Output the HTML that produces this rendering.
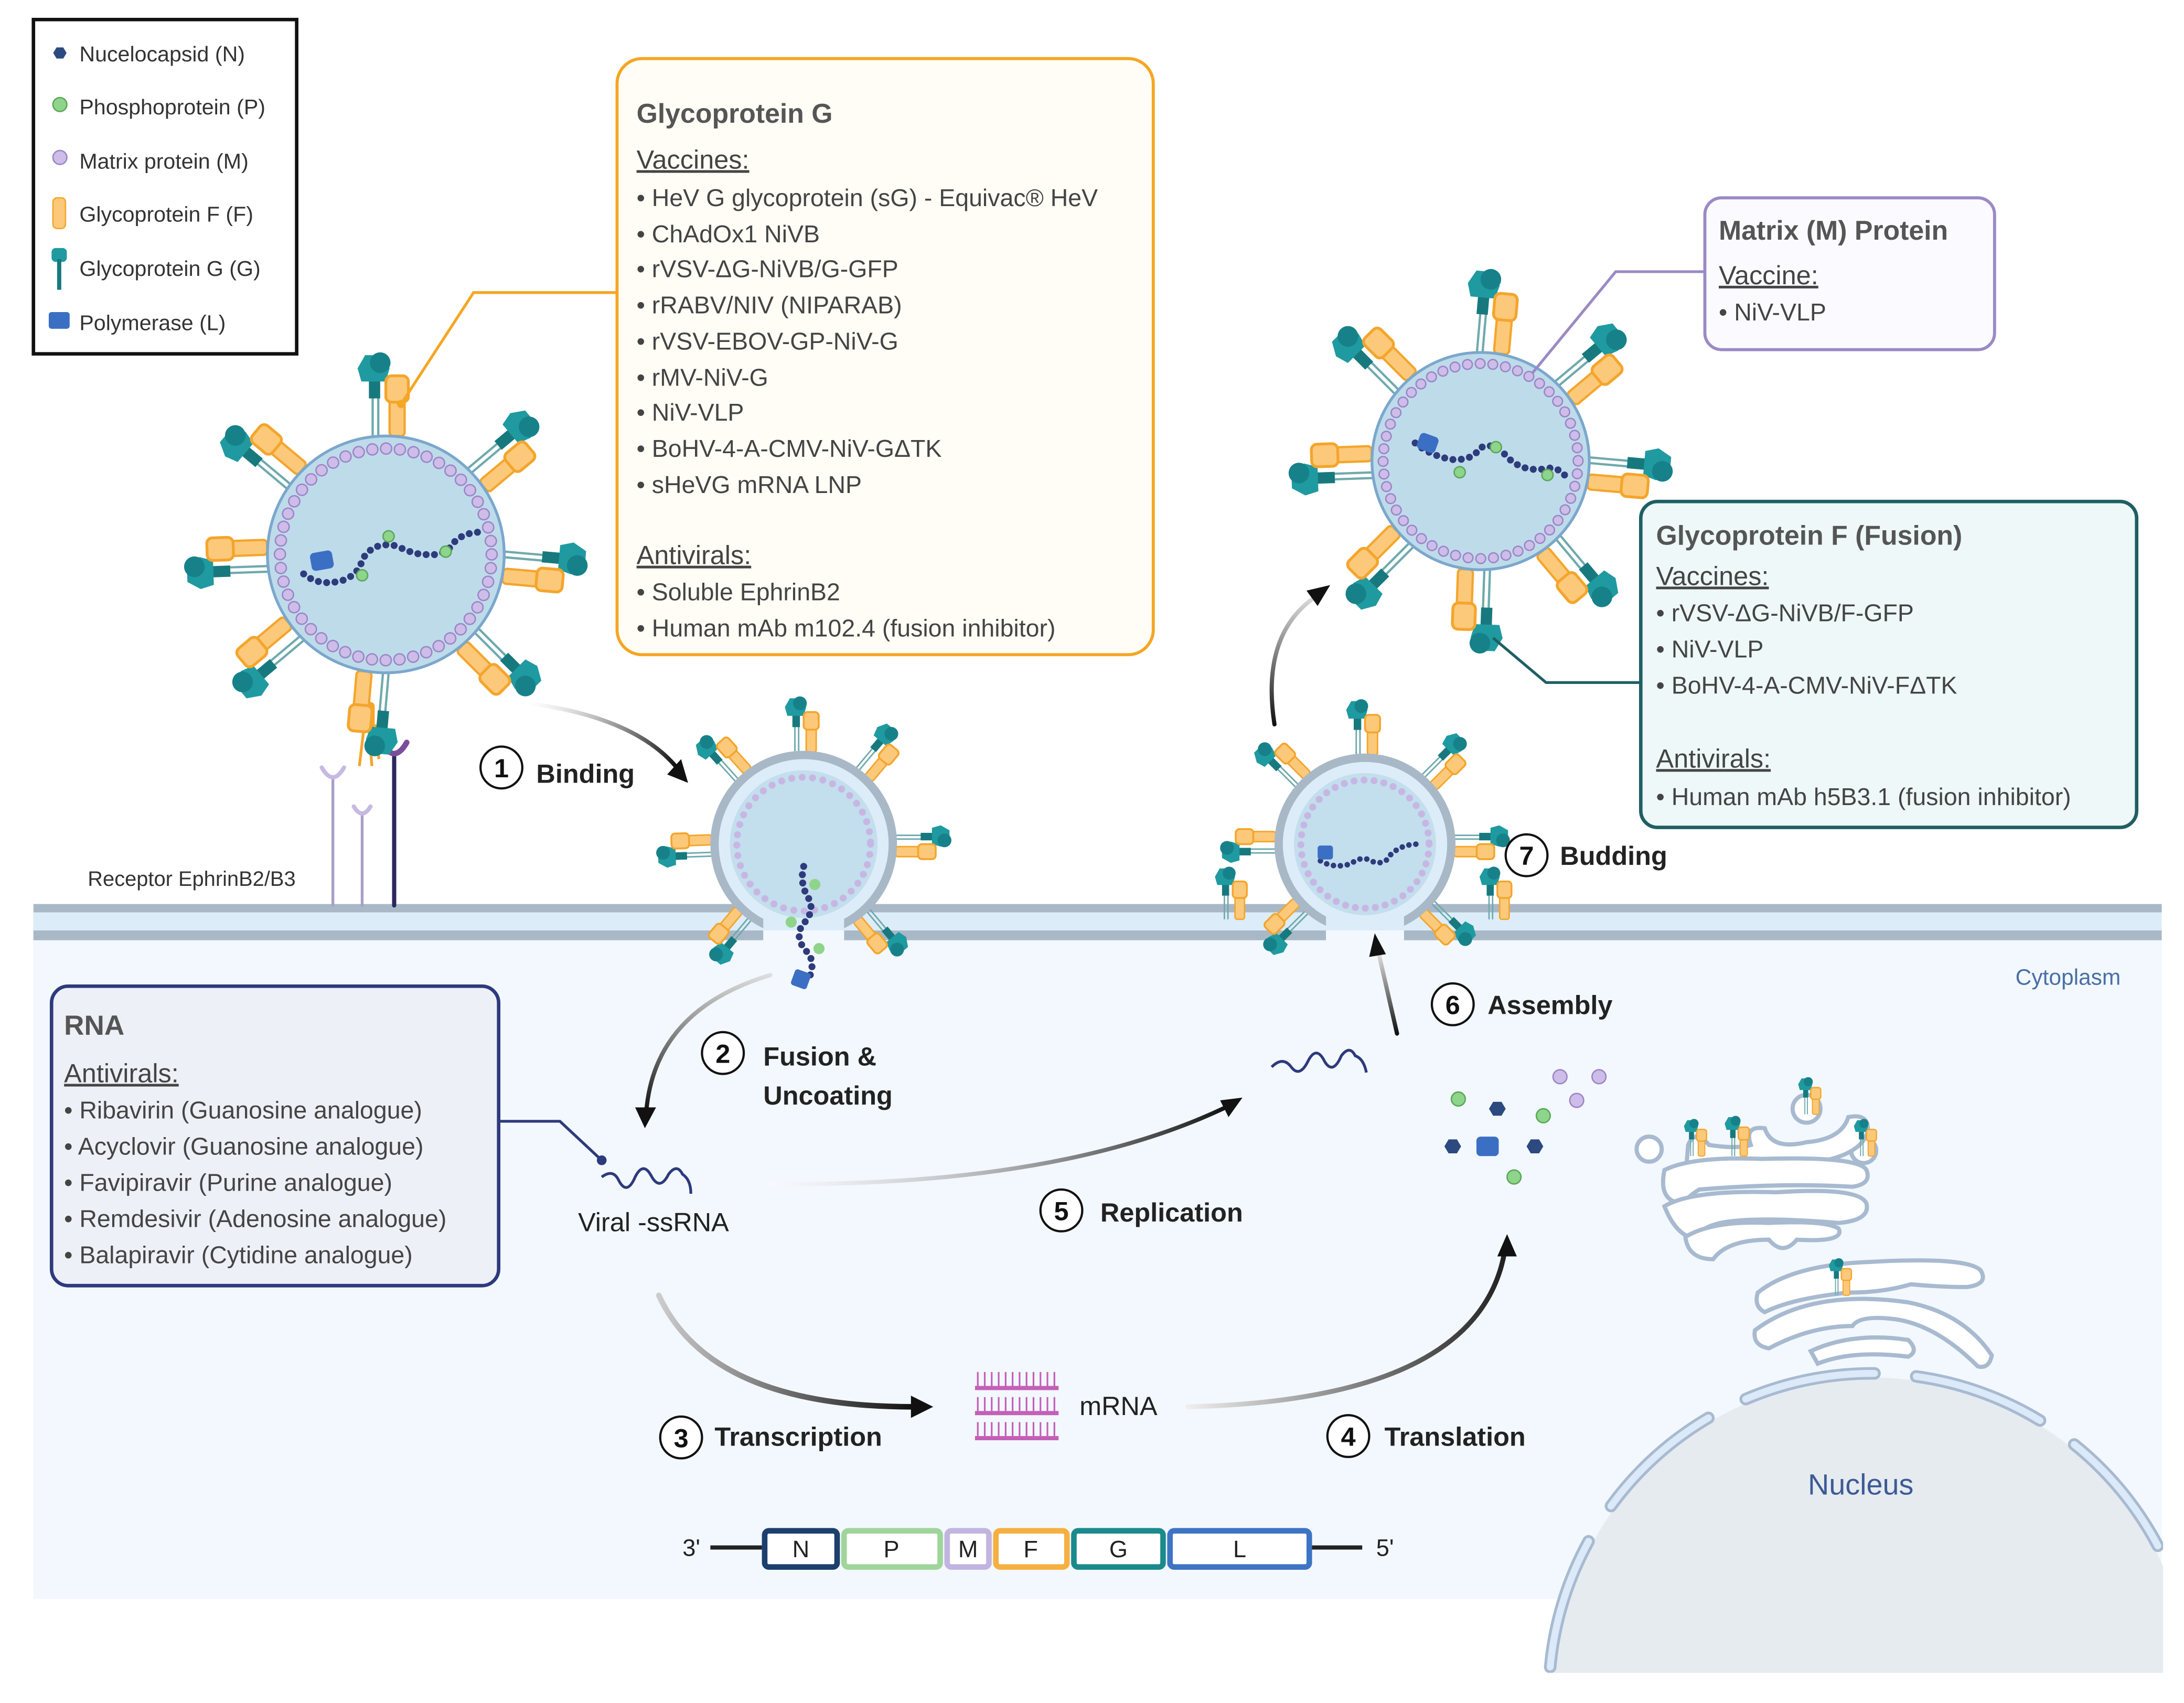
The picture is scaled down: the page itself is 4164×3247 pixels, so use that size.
<!DOCTYPE html>
<html><head><meta charset="utf-8"><style>
html,body{margin:0;padding:0;background:#fff;width:4164px;height:3247px;overflow:hidden}
svg{display:block}
text{font-family:"Liberation Sans",sans-serif}
</style></head><body>
<svg width="4164" height="3247" viewBox="0 0 1568 1222.6" xmlns="http://www.w3.org/2000/svg">
<defs>
<linearGradient id="gA" x1="0" y1="0" x2="1" y2="0"><stop offset="0" stop-color="#fff" stop-opacity="0.3"/><stop offset="1" stop-color="#111"/></linearGradient>
<linearGradient id="gB" x1="0" y1="0" x2="0" y2="1"><stop offset="0" stop-color="#ddd"/><stop offset="1" stop-color="#111"/></linearGradient>
<linearGradient id="gT" x1="0" y1="0" x2="1" y2="0"><stop offset="0" stop-color="#ccc"/><stop offset="1" stop-color="#111"/></linearGradient>
<linearGradient id="gL" x1="0" y1="0" x2="1" y2="0"><stop offset="0" stop-color="#eee"/><stop offset="1" stop-color="#222"/></linearGradient>
<g id="spk">
 <line x1="-7" y1="0" x2="-7" y2="-22" stroke="#6fa9ad" stroke-width="1.2"/>
 <line x1="-4" y1="0" x2="-4" y2="-22" stroke="#6fa9ad" stroke-width="1.2"/>
 <rect x="-9" y="-32" width="6" height="12" fill="#17797e"/>
 <path d="M-15,-36 l4,-7 h9 l4,7 l-2,7 h-13z" fill="#1f9aa0"/>
 <circle cx="-3" cy="-39" r="5.5" fill="#178189"/>
 <rect x="2" y="-20" width="8" height="20" rx="2" fill="#fcc97a" stroke="#f4a52c" stroke-width="1.2"/>
 <rect x="0" y="-32" width="12" height="14" rx="3" fill="#fcc97a" stroke="#f4a52c" stroke-width="1.5"/>
</g>
<g id="hex"><polygon points="-6,0 -3,-5 3,-5 6,0 3,5 -3,5" fill="#2c4a80"/></g>
</defs>

<rect x="24" y="660" width="1528" height="488" fill="#f2f8fd"/>
<clipPath id="nc"><rect x="0" y="900" width="1553" height="301"/></clipPath>
<g clip-path="url(#nc)">
<circle cx="1344" cy="1218" r="229" fill="#e6ebf0"/>
<circle cx="1344" cy="1218" r="232" fill="none" stroke="#a8bad0" stroke-width="9" stroke-dasharray="95 30" stroke-linecap="round"/>
<circle cx="1344" cy="1218" r="232" fill="none" stroke="#dbe9f8" stroke-width="5" stroke-dasharray="95 30" stroke-linecap="round"/>
</g>
<text x="1298" y="1073" font-size="21" fill="#3d5a96">Nucleus</text>
<text x="1447" y="707" font-size="16" fill="#4a6fa5">Cytoplasm</text>

<g fill="#fff" stroke="#a8bad0" stroke-width="3">
<circle cx="1184" cy="825" r="9"/><circle cx="1338" cy="826" r="9"/><circle cx="1297" cy="796" r="10"/>
<path d="M1212,822 q5,-12 15,0 q20,3 30,0 q-5,-14 10,-12 q5,16 30,10 q25,-2 30,-18 q15,-3 14,10 q-5,20 -50,24 q-60,5 -80,-2z"/>
<path d="M1195,840 q20,-10 70,-8 q70,-2 75,8 q4,10 -10,12 q-50,-3 -110,2 q-10,6 -10,10 q-20,0 -15,-24z"/>
<path d="M1195,866 q20,-12 80,-10 q60,-4 65,8 q3,12 -20,14 q-60,-5 -85,0 q-20,5 -10,12 q-20,2 -30,-24z"/>
<path d="M1210,888 q20,-12 60,-10 q40,-2 50,4 q5,10 -30,8 q-10,12 -20,0 q-30,0 -40,14 q-18,0 -20,-16z"/>
<path d="M1262,928 q25,-20 80,-22 q70,-4 80,6 q6,10 -10,12 q-20,0 -40,-2 q-20,6 -45,6 q-40,4 -60,14 q-8,-4 -5,-14z"/>
<path d="M1260,955 q40,-30 110,-20 q40,8 60,38 q-2,10 -10,8 q-30,-30 -60,-34 q-25,-3 -30,5 q-30,0 -60,16 q-12,-2 -10,-13z"/>
<path d="M1300,970 q30,-14 70,-8 q8,8 0,12 q-40,-5 -65,5z"/>
</g>
<use href="#spk" transform="translate(1218,830) scale(0.6)"/>
<use href="#spk" transform="translate(1248,830) scale(0.65)"/>
<use href="#spk" transform="translate(1300,800) scale(0.6)"/>
<use href="#spk" transform="translate(1340,830) scale(0.6)"/>
<use href="#spk" transform="translate(1322,930) scale(0.6)"/>

<rect x="24" y="649" width="1528" height="26" fill="#a9b8c6"/>
<rect x="24" y="655" width="1528" height="13" fill="#ddecf9"/>

<g fill="none" stroke-linecap="round">
<line x1="239" y1="650" x2="239" y2="558" stroke="#a99fc5" stroke-width="2"/>
<path d="M231,551 q8,14 16,0" stroke="#c6b9e2" stroke-width="3"/>
<line x1="260" y1="650" x2="260" y2="585" stroke="#a99fc5" stroke-width="2"/>
<path d="M254,579 q6,10 12,0" stroke="#c6b9e2" stroke-width="3"/>
<line x1="283" y1="650" x2="283" y2="542" stroke="#2b275e" stroke-width="3"/>
<path d="M274,533 q9,16 18,0" stroke="#7a4e9c" stroke-width="4"/>
</g>
<g stroke="#f4a52c" stroke-width="2" fill="#f4a52c"><rect x="258" y="505" width="10" height="20" rx="2"/><line x1="261" y1="525" x2="258" y2="550"/><line x1="265" y1="525" x2="267" y2="550"/><line x1="270" y1="520" x2="272" y2="545"/></g>

<g transform="translate(277,398)">
<use href="#spk" transform="rotate(0) translate(0,-85) scale(1.35)"/>
<use href="#spk" transform="rotate(50) translate(0,-85) scale(1.35)"/>
<use href="#spk" transform="rotate(95) translate(0,-85) scale(1.35)"/>
<use href="#spk" transform="rotate(135) translate(0,-85) scale(1.35)"/>
<use href="#spk" transform="rotate(185) translate(0,-85) scale(1.35)"/>
<use href="#spk" transform="rotate(230) translate(0,-85) scale(1.35)"/>
<use href="#spk" transform="rotate(268) translate(0,-85) scale(1.35)"/>
<use href="#spk" transform="rotate(310) translate(0,-85) scale(1.35)"/>
<circle r="85" fill="#bedbea" stroke="#7ba7cc" stroke-width="2"/>
<circle r="76" fill="none" stroke="#9c86c8" stroke-width="9" stroke-dasharray="0 9.95" stroke-linecap="round"/>
<circle r="76" fill="none" stroke="#cdbde8" stroke-width="7" stroke-dasharray="0 9.95" stroke-linecap="round"/>
</g>
<path d="M218,412 q12,10 30,4 q10,-5 12,-14 q8,-14 25,-10 q12,6 20,6 q15,2 22,-10 q8,-6 18,-6" fill="none" stroke="#2e3b7c" stroke-width="5" stroke-dasharray="0 6" stroke-linecap="round"/>
<rect x="223" y="396" width="16" height="13" rx="3" fill="#3a6fc4" transform="rotate(-10 231 402)"/>
<circle cx="260" cy="413" r="4" fill="#8fd48b" stroke="#5aa85a"/><circle cx="279" cy="385" r="4" fill="#8fd48b" stroke="#5aa85a"/><circle cx="320" cy="396" r="4" fill="#8fd48b" stroke="#5aa85a"/>

<g transform="translate(1063,331)">
<use href="#spk" transform="rotate(5) translate(0,-78) scale(1.35)"/>
<use href="#spk" transform="rotate(50) translate(0,-78) scale(1.35)"/>
<use href="#spk" transform="rotate(95) translate(0,-78) scale(1.35)"/>
<use href="#spk" transform="rotate(140) translate(0,-78) scale(1.35)"/>
<use href="#spk" transform="rotate(182) translate(0,-78) scale(1.35)"/>
<use href="#spk" transform="rotate(225) translate(0,-78) scale(1.35)"/>
<use href="#spk" transform="rotate(268) translate(0,-78) scale(1.35)"/>
<use href="#spk" transform="rotate(315) translate(0,-78) scale(1.35)"/>
<circle r="78" fill="#bedbea" stroke="#7ba7cc" stroke-width="2"/>
<circle r="70" fill="none" stroke="#9c86c8" stroke-width="8" stroke-dasharray="0 9.15" stroke-linecap="round"/>
<circle r="70" fill="none" stroke="#cdbde8" stroke-width="6" stroke-dasharray="0 9.15" stroke-linecap="round"/>
</g>
<path d="M1016,318 q12,10 28,12 q14,0 18,-8 q10,-6 20,6 q12,12 30,8 q8,0 12,6" fill="none" stroke="#2e3b7c" stroke-width="5" stroke-dasharray="0 6" stroke-linecap="round"/>
<rect x="1018" y="312" width="14" height="12" rx="3" fill="#3a6fc4" transform="rotate(20 1025 318)"/>
<circle cx="1048" cy="339" r="4" fill="#8fd48b" stroke="#5aa85a"/><circle cx="1074" cy="321" r="4" fill="#8fd48b" stroke="#5aa85a"/><circle cx="1111" cy="341" r="4" fill="#8fd48b" stroke="#5aa85a"/>

<!-- budding virion 1 -->
<g transform="translate(577,606)">
<use href="#spk" transform="rotate(0) translate(0,-66) scale(0.9)"/>
<use href="#spk" transform="rotate(40) translate(0,-66) scale(0.9)"/>
<use href="#spk" transform="rotate(90) translate(0,-66) scale(0.9)"/>
<use href="#spk" transform="rotate(140) translate(0,-66) scale(0.9)"/>
<use href="#spk" transform="rotate(220) translate(0,-66) scale(0.9)"/>
<use href="#spk" transform="rotate(268) translate(0,-66) scale(0.9)"/>
<use href="#spk" transform="rotate(318) translate(0,-66) scale(0.9)"/>
<circle r="64" fill="#ddecf9" stroke="#a9b8c6" stroke-width="6"/>
</g>
<rect x="548" y="646" width="58" height="32" fill="#ddecf9"/>
<rect x="548" y="668" width="58" height="10" fill="#f2f8fd"/>
<circle cx="577" cy="606" r="53" fill="#c3deec"/>
<circle cx="577" cy="606" r="48" fill="none" stroke="#c7b6e3" stroke-width="5" stroke-dasharray="0 7.5" stroke-linecap="round"/>
<path d="M577,622 q-3,12 3,22 q6,10 -4,20 q-6,10 4,20 q6,8 0,20" fill="none" stroke="#2e3b7c" stroke-width="5" stroke-dasharray="0 6" stroke-linecap="round"/>
<rect x="569" y="697" width="12" height="12" rx="2" fill="#3a6fc4" transform="rotate(20 575 703)"/>
<circle cx="585" cy="635" r="4" fill="#8fd48b"/><circle cx="568" cy="662" r="4" fill="#8fd48b"/><circle cx="588" cy="681" r="4" fill="#8fd48b"/>

<!-- budding virion 2 -->
<g transform="translate(980,606)">
<use href="#spk" transform="rotate(0) translate(0,-64) scale(0.9)"/>
<use href="#spk" transform="rotate(45) translate(0,-64) scale(0.9)"/>
<use href="#spk" transform="rotate(90) translate(0,-64) scale(0.9)"/>
<use href="#spk" transform="rotate(135) translate(0,-64) scale(0.9)"/>
<use href="#spk" transform="rotate(225) translate(0,-64) scale(0.9)"/>
<use href="#spk" transform="rotate(270) translate(0,-64) scale(0.9)"/>
<use href="#spk" transform="rotate(315) translate(0,-64) scale(0.9)"/>
<circle r="62" fill="#ddecf9" stroke="#a9b8c6" stroke-width="6"/>
</g>
<rect x="952" y="646" width="56" height="32" fill="#ddecf9"/>
<rect x="952" y="668" width="56" height="10" fill="#f2f8fd"/>
<circle cx="980" cy="606" r="51" fill="#c3deec"/>
<circle cx="980" cy="606" r="46" fill="none" stroke="#c7b6e3" stroke-width="5" stroke-dasharray="0 7.2" stroke-linecap="round"/>
<path d="M948,618 q10,6 22,2 q8,-6 14,-2 q10,4 14,-4 q8,-8 20,-8" fill="none" stroke="#2e3b7c" stroke-width="4" stroke-dasharray="0 5" stroke-linecap="round"/>
<rect x="946" y="607" width="11" height="10" rx="2" fill="#3a6fc4"/>
<use href="#spk" transform="translate(885,660) scale(0.85)"/>
<use href="#spk" transform="translate(1075,660) scale(0.85)"/>

<rect x="24" y="14" width="189" height="240" fill="#fff" stroke="#111" stroke-width="2.5"/>
<g font-size="15.5" fill="#333">
<text x="57" y="44">Nucelocapsid (N)</text>
<text x="57" y="82">Phosphoprotein (P)</text>
<text x="57" y="121">Matrix protein (M)</text>
<text x="57" y="159">Glycoprotein F (F)</text>
<text x="57" y="198">Glycoprotein G (G)</text>
<text x="57" y="237">Polymerase (L)</text>
</g>
<use href="#hex" transform="translate(43,38) scale(0.8)"/>
<circle cx="43" cy="75" r="5" fill="#8fd48b" stroke="#5aa85a"/>
<circle cx="43" cy="113" r="5" fill="#cdbde8" stroke="#9c86c8"/>
<rect x="38" y="142" width="9" height="22" rx="3" fill="#fcc97a" stroke="#f4a52c"/>
<rect x="37" y="178" width="11" height="10" rx="3" fill="#1f9aa0"/><rect x="41" y="186" width="3" height="22" fill="#17797e"/>
<rect x="35" y="224" width="15" height="12" rx="2" fill="#3a6fc4"/>

<polyline points="443,210 340,210 288,290" fill="none" stroke="#f5a623" stroke-width="2"/>
<circle cx="288" cy="290" r="3" fill="#f5a623"/>
<rect x="443" y="42" width="385" height="428" rx="18" fill="#fffdf6" stroke="#f5a623" stroke-width="2.2"/>
<g font-size="17.5" fill="#444">
<text x="457" y="88" font-size="19.5" font-weight="bold" fill="#555">Glycoprotein G</text>
<text x="457" y="121" font-size="19" text-decoration="underline">Vaccines:</text>
<text x="457" y="148">• HeV G glycoprotein (sG) - Equivac® HeV</text>
<text x="457" y="174">• ChAdOx1 NiVB</text>
<text x="457" y="199">• rVSV-ΔG-NiVB/G-GFP</text>
<text x="457" y="225">• rRABV/NIV (NIPARAB)</text>
<text x="457" y="251">• rVSV-EBOV-GP-NiV-G</text>
<text x="457" y="277">• rMV-NiV-G</text>
<text x="457" y="302">• NiV-VLP</text>
<text x="457" y="328">• BoHV-4-A-CMV-NiV-GΔTK</text>
<text x="457" y="354">• sHeVG mRNA LNP</text>
<text x="457" y="405" font-size="19" text-decoration="underline">Antivirals:</text>
<text x="457" y="431">• Soluble EphrinB2</text>
<text x="457" y="457">• Human mAb m102.4 (fusion inhibitor)</text>
</g>

<polyline points="1224,195 1160,195 1100,268" fill="none" stroke="#9b8ac4" stroke-width="2"/>
<rect x="1224" y="142" width="208" height="109" rx="12" fill="#fbfaff" stroke="#9b8ac4" stroke-width="2.2"/>
<text x="1234" y="172" font-size="19.5" font-weight="bold" fill="#555">Matrix (M) Protein</text>
<text x="1234" y="204" font-size="19" fill="#444" text-decoration="underline">Vaccine:</text>
<text x="1234" y="230" font-size="17.5" fill="#444">• NiV-VLP</text>

<polyline points="1178,490 1110,490 1072,458" fill="none" stroke="#1f5f63" stroke-width="2"/>
<rect x="1178" y="360" width="356" height="234" rx="12" fill="#eef8f8" stroke="#1f5f63" stroke-width="2.5"/>
<g font-size="17.5" fill="#444">
<text x="1189" y="391" font-size="19.5" font-weight="bold" fill="#555">Glycoprotein F (Fusion)</text>
<text x="1189" y="420" font-size="19" text-decoration="underline">Vaccines:</text>
<text x="1189" y="446">• rVSV-ΔG-NiVB/F-GFP</text>
<text x="1189" y="472">• NiV-VLP</text>
<text x="1189" y="498">• BoHV-4-A-CMV-NiV-FΔTK</text>
<text x="1189" y="551" font-size="19" text-decoration="underline">Antivirals:</text>
<text x="1189" y="578">• Human mAb h5B3.1 (fusion inhibitor)</text>
</g>

<polyline points="358,805 402,805 432,833" fill="none" stroke="#2e3a7c" stroke-width="2"/>
<circle cx="432" cy="833" r="3.5" fill="#2e3a7c"/>
<rect x="37" y="708" width="321" height="215" rx="12" fill="#eef0f7" stroke="#2e3a7c" stroke-width="2.5"/>
<g font-size="17.5" fill="#444">
<text x="46" y="743" font-size="20" font-weight="bold" fill="#555">RNA</text>
<text x="46" y="777" font-size="19" text-decoration="underline">Antivirals:</text>
<text x="46" y="803">• Ribavirin (Guanosine analogue)</text>
<text x="46" y="829">• Acyclovir (Guanosine analogue)</text>
<text x="46" y="855">• Favipiravir (Purine analogue)</text>
<text x="46" y="881">• Remdesivir (Adenosine analogue)</text>
<text x="46" y="907">• Balapiravir (Cytidine analogue)</text>
</g>

<path d="M432,845 q8,-6 12,2 q6,12 12,-2 q6,-12 12,0 q6,10 12,-2 q6,-8 10,0 q6,4 6,14" fill="none" stroke="#2e3a7c" stroke-width="2"/>
<path d="M913,766 q8,-8 14,0 q6,8 12,-4 q6,-12 12,0 q6,10 12,-4 q6,-8 10,0 q6,2 8,12" fill="none" stroke="#2e3a7c" stroke-width="2"/>
<text x="415" y="884" font-size="19" fill="#222">Viral -ssRNA</text>

<g stroke="#c45fb8" stroke-width="1.2">
<path d="M702,985 v10 M707,985 v10 M712,985 v10 M717,985 v10 M722,985 v10 M727,985 v10 M732,985 v10 M737,985 v10 M742,985 v10 M747,985 v10 M752,985 v10 M757,985 v10"/>
<path d="M702,1003 v10 M707,1003 v10 M712,1003 v10 M717,1003 v10 M722,1003 v10 M727,1003 v10 M732,1003 v10 M737,1003 v10 M742,1003 v10 M747,1003 v10 M752,1003 v10 M757,1003 v10"/>
<path d="M702,1021 v10 M707,1021 v10 M712,1021 v10 M717,1021 v10 M722,1021 v10 M727,1021 v10 M732,1021 v10 M737,1021 v10 M742,1021 v10 M747,1021 v10 M752,1021 v10 M757,1021 v10"/>
</g>
<g fill="#c45fb8"><rect x="700" y="995" width="60" height="3"/><rect x="700" y="1013" width="60" height="3"/><rect x="700" y="1031" width="60" height="3"/></g>
<text x="775" y="1016" font-size="19" fill="#222">mRNA</text>

<g fill="#8fd48b" stroke="#5aa85a"><circle cx="1047" cy="789" r="5"/><circle cx="1108" cy="801" r="5"/><circle cx="1087" cy="845" r="5"/></g>
<g fill="#cdbde8" stroke="#9c86c8"><circle cx="1120" cy="773" r="5"/><circle cx="1148" cy="773" r="5"/><circle cx="1132" cy="790" r="5"/></g>
<use href="#hex" transform="translate(1075,796)"/><use href="#hex" transform="translate(1043,823)"/><use href="#hex" transform="translate(1102,823)"/>
<rect x="1060" y="816" width="16" height="14" rx="3" fill="#3a6fc4"/>

<g fill="none" stroke-width="3" stroke-linecap="round">
<path d="M380,505 Q455,515 485,550" stroke="url(#gA)"/>
<path d="M553,700 Q470,725 464,798" stroke="url(#gB)"/>
<path d="M552,850 Q760,852 880,795" stroke="url(#gA)"/>
<path d="M473,930 Q510,1010 655,1010" stroke="url(#gT)" stroke-width="4"/>
<path d="M853,1010 Q1060,1005 1080,900" stroke="url(#gL)" stroke-width="3.5"/>
<path d="M1003,742 L990,685" stroke="url(#gB)"/>
<path d="M915,520 Q905,455 945,428" stroke="url(#gB)"/>
</g>
<g fill="#111">
<polygon points="494,562 479,556 489,545"/>
<polygon points="463,810 456,795 471,795"/>
<polygon points="892,788 876,790 882,802"/>
<polygon points="670,1010 654,1002 654,1018"/>
<polygon points="1082,886 1075,902 1089,902"/>
<polygon points="987,670 983,687 995,685"/>
<polygon points="955,420 938,424 946,435"/>
</g>

<g fill="#fff" stroke="#111" stroke-width="1.6">
<circle cx="360" cy="551" r="15"/><circle cx="519" cy="756" r="15"/><circle cx="489" cy="1032" r="15"/>
<circle cx="968" cy="1031" r="15"/><circle cx="762" cy="869" r="15"/><circle cx="1043" cy="721" r="15"/><circle cx="1096" cy="614" r="15"/>
</g>
<g font-size="19" font-weight="bold" fill="#111" text-anchor="middle">
<text x="360" y="558">1</text><text x="519" y="763">2</text><text x="489" y="1039">3</text><text x="968" y="1038">4</text><text x="762" y="876">5</text><text x="1043" y="728">6</text><text x="1096" y="621">7</text>
</g>
<g font-size="19" font-weight="bold" fill="#222">
<text x="385" y="562">Binding</text>
<text x="548" y="765">Fusion &amp;</text>
<text x="548" y="793">Uncoating</text>
<text x="513" y="1038">Transcription</text>
<text x="994" y="1038">Translation</text>
<text x="790" y="877">Replication</text>
<text x="1068" y="728">Assembly</text>
<text x="1120" y="621">Budding</text>
</g>
<text x="63" y="636" font-size="15" fill="#333">Receptor EphrinB2/B3</text>

<line x1="510" y1="1111" x2="547" y2="1111" stroke="#222" stroke-width="3"/>
<line x1="941" y1="1111" x2="978" y2="1111" stroke="#222" stroke-width="3"/>
<g fill="#fff" stroke-width="4">
<rect x="549" y="1099" width="52" height="26" rx="3" stroke="#1d3f6e"/>
<rect x="606" y="1099" width="69" height="26" rx="3" stroke="#9fd59a"/>
<rect x="680" y="1099" width="30" height="26" rx="3" stroke="#c2b4e0"/>
<rect x="715" y="1099" width="51" height="26" rx="3" stroke="#f5b041"/>
<rect x="771" y="1099" width="64" height="26" rx="3" stroke="#1b8a8c"/>
<rect x="840" y="1099" width="100" height="26" rx="3" stroke="#3e74c4"/>
</g>
<g font-size="17" fill="#222" text-anchor="middle">
<text x="575" y="1118">N</text><text x="640" y="1118">P</text><text x="695" y="1118">M</text><text x="740" y="1118">F</text><text x="803" y="1118">G</text><text x="890" y="1118">L</text>
</g>
<text x="490" y="1117" font-size="17" fill="#222">3'</text>
<text x="988" y="1117" font-size="17" fill="#222">5'</text>
</svg>
</body></html>
